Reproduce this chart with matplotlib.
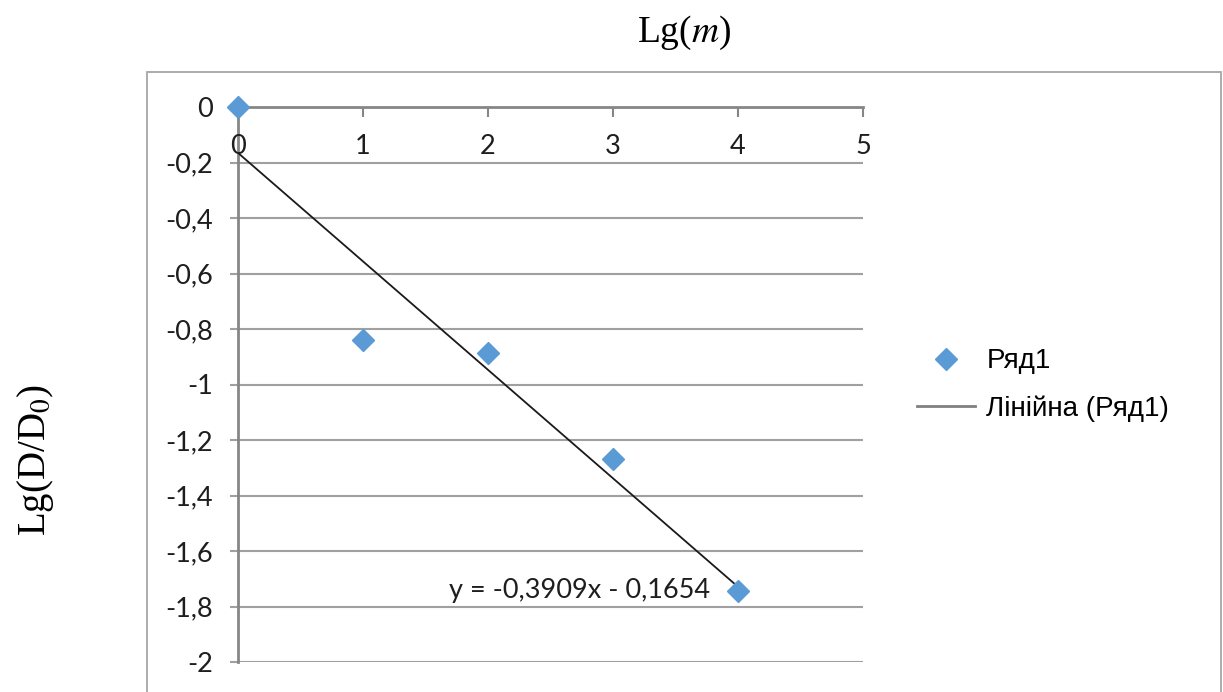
import matplotlib
matplotlib.use('Agg')
import matplotlib.pyplot as plt
import matplotlib.transforms as mtrans
from matplotlib.patches import Rectangle
from matplotlib.lines import Line2D

plt.rcParams['mathtext.fontset'] = 'stix'

# ── Data ──────────────────────────────────────────────────────────────────────
x_vals = [0, 1, 2, 3, 4]
y_vals = [0, -0.84, -0.886, -1.268, -1.744]
slope, intercept = -0.3909, -0.1654
trend_x = [0, 4]
x_ticks = [0, 1, 2, 3, 4, 5]
y_ticks = [0, -0.2, -0.4, -0.6, -0.8, -1.0, -1.2, -1.4, -1.6, -1.8, -2.0]
eq_label = 'y = -0,3909x - 0,1654'
series_name = 'Ряд1'
trend_name = 'Лінійна (Ряд1)'

BLUE = '#5b9bd5'
GRID = '#a0a0a0'
AXIS = '#868686'
TXT = '#1e1e1e'
TICK_FONT = 'Lato'
TICK_SIZE = 19.5

W, H = 1223, 692


def fmt(v):
    s = f'{v:.1f}'.rstrip('0').rstrip('.')
    return s.replace('.', ',')


fig = plt.figure(figsize=(W / 100, H / 100), dpi=100)
fig.patch.set_facecolor('white')

# chart-area frame (runs off the bottom of the image)
fig.add_artist(Rectangle((147 / W, -0.1), (1221 - 147) / W, 1 - 72 / H + 0.1,
                         transform=fig.transFigure, fill=False, ec='#a6a6a6', lw=1.3))

ax = fig.add_axes([238 / W, 1 - 662 / H, (863 - 238) / W, (662 - 107) / H])
ax.set_xlim(0, 5)
ax.set_ylim(-2, 0)

for side in ['bottom', 'right']:
    ax.spines[side].set_visible(False)
for side in ['left', 'top']:
    ax.spines[side].set_color(AXIS)
    ax.spines[side].set_linewidth(2)

ax.set_yticks(y_ticks)
ax.set_yticklabels([fmt(v) for v in y_ticks], fontsize=TICK_SIZE, family=TICK_FONT, color=TXT)
ax.yaxis.grid(True, color=GRID, lw=1.5)
ax.set_axisbelow(True)
ax.tick_params(axis='y', direction='out', length=6, width=1.5, color=GRID, pad=12)

ax.xaxis.tick_top()
ax.set_xticks(x_ticks)
ax.tick_params(axis='x', direction='in', length=7, width=1.5, color=AXIS,
               labeltop=False, labelbottom=False)
xlab_tr = mtrans.offset_copy(mtrans.blended_transform_factory(ax.transData, ax.transAxes),
                             fig=fig, y=-39, units='dots')
for v in x_ticks:
    ax.text(v, 1, fmt(v), transform=xlab_tr, ha='center', va='center',
            fontsize=TICK_SIZE, family=TICK_FONT, color=TXT)

# ── Series + linear trendline ────────────────────────────────────────────────
ax.plot(trend_x, [slope * t + intercept for t in trend_x], color='#1a1a1a', lw=1.3, zorder=4)
ax.plot(x_vals, y_vals, ls='none', marker='D', ms=11.5, color=BLUE, mec=BLUE,
        clip_on=False, zorder=5)

ax.annotate(eq_label, xy=(x_vals[-1], y_vals[-1]), xytext=(-28, 0),
            textcoords='offset pixels', ha='right', va='center',
            fontsize=TICK_SIZE, family=TICK_FONT, color=TXT)

# ── Legend ───────────────────────────────────────────────────────────────────
handles = [Line2D([], [], ls='none', marker='D', ms=11, color=BLUE),
           Line2D([], [], color='#808080', lw=2)]
fig.legend(handles, [series_name, trend_name], loc='center left',
           bbox_to_anchor=(917 / W, 1 - 385 / H), frameon=False,
           prop={'family': 'Liberation Sans', 'size': 20}, handlelength=2.1,
           handletextpad=0.4, labelspacing=0.75, borderpad=0, borderaxespad=0,
           numpoints=1)

# ── Axis titles ──────────────────────────────────────────────────────────────
fig.text(684 / W, 1 - 33 / H, r'Lg($m$)', family='Liberation Serif', fontsize=27,
         ha='center', va='center', color='black')
fig.text(35 / W, 1 - 460 / H, r'Lg(D/D$_0$)', rotation=90, family='Liberation Serif',
         fontsize=28, ha='center', va='center', color='black')

fig.savefig('out.png', dpi=100, facecolor='white')
